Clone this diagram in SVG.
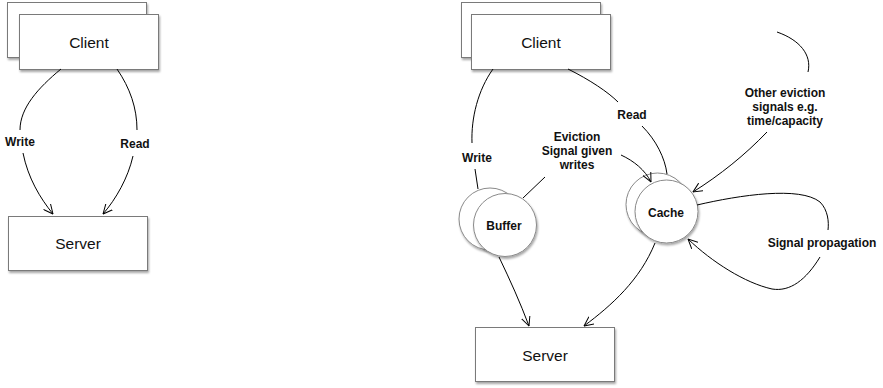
<svg xmlns="http://www.w3.org/2000/svg" width="883" height="388" viewBox="0 0 883 388">
  <defs>
    <filter id="shadow" x="-20%" y="-20%" width="150%" height="150%">
      <feDropShadow dx="1" dy="2" stdDeviation="1.3" flood-color="#000" flood-opacity="0.35"/>
    </filter>
    <marker id="arrow" viewBox="0 0 10 10" refX="9.5" refY="5" markerWidth="10" markerHeight="10" markerUnits="userSpaceOnUse" orient="auto">
      <path d="M0,0.5 L9.5,5 L0,9.5" fill="none" stroke="#000" stroke-width="1"/>
    </marker>
    <style>
      .box { fill: #fff; stroke: #7a7a7a; stroke-width: 1; filter: url(#shadow); }
      .circ { fill: #fff; stroke: #8a8a8a; stroke-width: 1; filter: url(#shadow); }
      .title { font-family: "Liberation Sans", Arial, sans-serif; font-size: 15.5px; fill: #111; text-anchor: middle; }
      .lbl { font-family: "Liberation Sans", Arial, sans-serif; font-size: 12px; font-weight: bold; fill: #111; text-anchor: middle; }
      .edge { fill: none; stroke: #000; stroke-width: 1; }
      .arr { marker-end: url(#arrow); }
    </style>
  </defs>

  <rect width="883" height="388" fill="#fff"/>

  <!-- Left diagram nodes -->
  <g id="client-left">
    <rect class="box" x="7.5" y="2.5" width="139" height="55"/>
    <rect class="box" x="19.5" y="14.5" width="139" height="55"/>
    <text class="title" x="89" y="47.5">Client</text>
  </g>
  <g id="server-left">
    <rect class="box" x="8.5" y="216.5" width="139" height="54"/>
    <text class="title" x="78" y="248.5">Server</text>
  </g>

  <!-- Right diagram nodes -->
  <g id="client-right">
    <rect class="box" x="461.5" y="2.5" width="139" height="55"/>
    <rect class="box" x="471.5" y="14.5" width="139" height="55"/>
    <text class="title" x="541" y="47.5">Client</text>
  </g>
  <g id="buffer">
    <circle class="circ" cx="490" cy="219" r="31"/>
    <circle class="circ" cx="505" cy="225" r="31.5"/>
    <text class="lbl" x="504" y="230">Buffer</text>
  </g>
  <g id="cache">
    <circle class="circ" cx="657.5" cy="204.5" r="31.5"/>
    <circle class="circ" cx="666.5" cy="211.5" r="31.5"/>
    <text class="lbl" x="666" y="217">Cache</text>
  </g>
  <g id="server-right">
    <rect class="box" x="475.5" y="327.5" width="139" height="54"/>
    <text class="title" x="545" y="360.5">Server</text>
  </g>

  <!-- Connectors (drawn over the nodes so heads stay visible on stacked circles) -->
  <g id="connectors">
    <!-- left: direct client/server -->
    <path class="edge" d="M61,69 C38,88 20,108 20,130"/>
    <path class="edge arr" d="M23,153 C28,178 40,198 53,214"/>
    <path class="edge" d="M117,69 C130,88 137,108 137,130"/>
    <path class="edge arr" d="M133,156 C128,178 116,199 103,214"/>

    <!-- right: with buffer and cache -->
    <path class="edge" d="M493,69 C478,90 471,118 472,143"/>
    <path class="edge" d="M475,169 C476,176 477,182 478,189"/>
    <path class="edge" d="M568,69 C590,80 608,92 618,102"/>
    <path class="edge" d="M642,126 C656,140 665,158 667,174"/>
    <path class="edge" d="M523,198 L545,177"/>
    <path class="edge arr" d="M621,155 C634,161 645,170 651,182"/>
    <path class="edge" d="M777,32 C800,40 812,55 808,72"/>
    <path class="edge arr" d="M767,132 C745,155 720,175 693,192"/>
    <path class="edge" d="M697,205 C740,195 800,186 820,202 C828,210 829,222 828,230"/>
    <path class="edge arr" d="M820,257 C806,280 790,292 772,289 C745,283 712,262 688,239"/>
    <path class="edge arr" d="M499,257 C510,280 520,302 529,326"/>
    <path class="edge arr" d="M655,243 C640,280 612,305 584,326"/>

    <!-- connector labels -->
    <text class="lbl" x="20" y="146">Write</text>
    <text class="lbl" x="135" y="148">Read</text>
    <text class="lbl" x="477" y="162">Write</text>
    <text class="lbl" x="632" y="119">Read</text>
    <text class="lbl" x="577" y="141">Eviction</text>
    <text class="lbl" x="577" y="155">Signal given</text>
    <text class="lbl" x="577" y="169">writes</text>
    <text class="lbl" x="785" y="97">Other eviction</text>
    <text class="lbl" x="785" y="111">signals e.g.</text>
    <text class="lbl" x="785" y="125">time/capacity</text>
    <text class="lbl" x="822" y="247">Signal propagation</text>
  </g>
</svg>
